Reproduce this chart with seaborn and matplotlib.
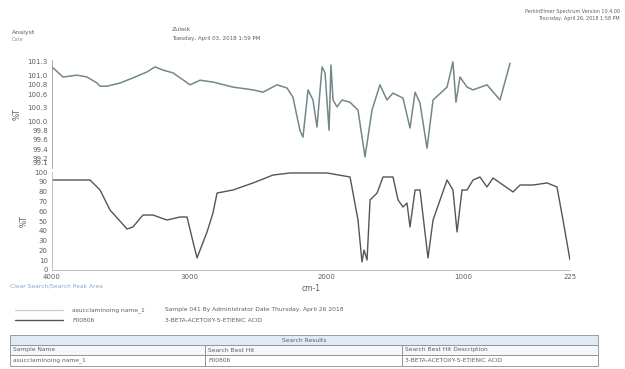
import matplotlib
matplotlib.use('Agg')
import matplotlib.pyplot as plt
import seaborn as sns
import numpy as np

sns.set_style('white')
plt.rcParams['font.family'] = ['DejaVu Sans']

# upper trace: sample spectrum (cm-1, %T)
wn_sample = [3993, 3920, 3818, 3745, 3672, 3650, 3599, 3504, 3410, 3308, 3249, 3191, 3118,
             2994, 2921, 2827, 2681, 2535, 2462, 2360, 2287, 2244, 2193, 2171, 2134, 2098,
             2069, 2032, 2010, 1981, 1967, 1952, 1923, 1886, 1828, 1770, 1719, 1668, 1610,
             1559, 1515, 1442, 1391, 1354, 1318, 1267, 1223, 1121, 1078, 1056, 1027, 975,
             932, 830, 735, 662]
t_sample = [101.17, 100.97, 101.01, 100.97, 100.84, 100.77, 100.77, 100.84, 100.95, 101.08,
            101.19, 101.12, 101.06, 100.80, 100.90, 100.86, 100.75, 100.69, 100.64, 100.80,
            100.73, 100.53, 99.81, 99.66, 100.69, 100.47, 99.88, 101.19, 101.06, 99.81,
            101.23, 100.47, 100.32, 100.47, 100.42, 100.25, 99.23, 100.25, 100.80, 100.47,
            100.62, 100.51, 99.86, 100.64, 100.40, 99.42, 100.47, 100.75, 101.30, 100.42,
            100.97, 100.75, 100.69, 100.80, 100.47, 101.27]

# lower trace: library hit F00806
wn_hit = [3993, 3723, 3650, 3577, 3453, 3410, 3337, 3264, 3162, 3067, 3016, 2972, 2943, 2921,
          2870, 2827, 2797, 2681, 2535, 2389, 2265, 1996, 1828, 1770, 1741, 1726, 1704, 1682,
          1631, 1588, 1515, 1478, 1442, 1413, 1391, 1354, 1318, 1260, 1223, 1172, 1121, 1078,
          1048, 1012, 975, 932, 881, 830, 786, 713, 640, 589, 495, 392, 320, 276, 225]
t_hit = [92.0, 92.0, 81.8, 61.3, 41.9, 44.0, 56.2, 56.2, 51.1, 54.2, 54.2, 28.6, 12.3, 20.4,
         38.9, 58.3, 78.7, 81.8, 89.0, 97.1, 99.2, 99.2, 95.1, 51.1, 8.2, 20.4, 10.2, 71.6,
         78.7, 95.1, 95.1, 71.6, 64.4, 68.5, 44.0, 81.8, 81.8, 12.3, 51.1, 71.6, 92.0, 81.8,
         38.9, 81.8, 81.8, 92.0, 95.1, 84.9, 94.1, 86.9, 79.8, 86.9, 86.9, 89.0, 84.9, 51.1, 10.2]

upper_ticks = [101.3, 101.0, 100.8, 100.6, 100.3, 100.0, 99.8, 99.6, 99.4, 99.2, 99.1]
lower_ticks = [0, 10, 20, 30, 40, 50, 60, 70, 80, 90, 100]
x_ticks = [4000, 3000, 2000, 1000, 225]
x_labels = ['4000', '3000', '2000', '1000', '225']

W, H = 625, 369
fig = plt.figure(figsize=(W / 100, H / 100), dpi=100)

def box(x0, y0, x1, y1):
    return [x0 / W, 1 - y1 / H, (x1 - x0) / W, (y1 - y0) / H]

grey = '#9a9a9a'
tick_kw = dict(labelsize=5, colors='#5e5e5e', length=2, width=0.5, pad=1)

# upper panel
ax1 = fig.add_axes(box(52, 60, 570, 168))
sns.lineplot(x=wn_sample, y=t_sample, ax=ax1, color='#748888', linewidth=1.1, estimator=None)
ax1.set_xlim(4000, 225)
ax1.set_ylim(98.99, 101.34)
ax1.set_yticks(upper_ticks)
ax1.set_yticklabels([f'{v:.1f}' for v in upper_ticks])
ax1.set_xticks([])
ax1.tick_params(axis='y', **tick_kw)
for s in ['top', 'right', 'bottom']:
    ax1.spines[s].set_visible(False)
ax1.spines['left'].set_color(grey)
ax1.spines['left'].set_linewidth(0.6)
ax1.set_ylabel('%T', fontsize=5.5, color='#5e5e5e', labelpad=4)

# lower panel
ax2 = fig.add_axes(box(52, 172, 570, 270))
sns.lineplot(x=wn_hit, y=t_hit, ax=ax2, color='#555555', linewidth=1.0, estimator=None)
ax2.set_xlim(4000, 225)
ax2.set_ylim(0, 100.2)
ax2.set_yticks(lower_ticks)
ax2.set_xticks(x_ticks)
ax2.set_xticklabels(x_labels)
ax2.tick_params(axis='both', **tick_kw)
for s in ['top', 'right']:
    ax2.spines[s].set_visible(False)
for s in ['left', 'bottom']:
    ax2.spines[s].set_color('#b5b5b5')
    ax2.spines[s].set_linewidth(0.6)
ax2.set_ylabel('%T', fontsize=5.5, color='#5e5e5e', labelpad=4)
ax2.set_xlabel('cm-1', fontsize=5.5, color='#5e5e5e', labelpad=3)

# page overlay: header, legend, result table
pg = fig.add_axes([0, 0, 1, 1], zorder=-1)
pg.set_xlim(0, W)
pg.set_ylim(H, 0)
pg.axis('off')
tc = '#5e5e5e'
pg.text(12, 34, 'Analyst', fontsize=4.5, color=tc)
pg.text(12, 41, 'Date', fontsize=3.5, color='#999999')
pg.text(172, 31, 'Zuleik', fontsize=4.5, color=tc)
pg.text(172, 40, 'Tuesday, April 03, 2018 1:59 PM', fontsize=4, color=tc)
pg.text(620, 13, 'PerkinElmer Spectrum Version 10.4.00', fontsize=3.5, color=tc, ha='right')
pg.text(620, 20, 'Thursday, April 26, 2018 1:58 PM', fontsize=3.5, color=tc, ha='right')
pg.text(10, 287, 'Clear Search/Search Peak Area', fontsize=4.3, color='#8aa6cc')

pg.plot([15, 63], [310, 310], color='#c8c8c8', linewidth=0.8)
pg.plot([15, 63], [320, 320], color='#555555', linewidth=1.0)
pg.text(72, 310, 'asucclaminoing name_1', fontsize=4.3, color=tc, va='center')
pg.text(165, 310, 'Sample 041 By Administrator Date Thursday, April 26 2018', fontsize=4.3, color=tc, va='center')
pg.text(72, 320, 'F00806', fontsize=4.3, color=tc, va='center')
pg.text(165, 320, '3-BETA-ACETOXY-5-ETIENIC ACID', fontsize=4.3, color=tc, va='center')

ec = '#8c8c8c'
pg.add_patch(plt.Rectangle((10, 335), 588, 10, facecolor='#dfeaf6', edgecolor=ec, linewidth=0.6))
pg.text(304, 340, 'Search Results', fontsize=4.3, color=tc, ha='center', va='center')
cols = [10, 205, 402, 598]
row_texts = [['Sample Name', 'Search Best Hit', 'Search Best Hit Description'],
             ['asucclaminoing name_1', 'F00806', '3-BETA-ACETOXY-5-ETIENIC ACID']]
for r, (y0, y1) in enumerate([(345, 355), (355, 366)]):
    for c in range(3):
        pg.add_patch(plt.Rectangle((cols[c], y0), cols[c + 1] - cols[c], y1 - y0,
                                   facecolor='#f4f8fc' if r == 0 else 'white',
                                   edgecolor=ec, linewidth=0.6))
        pg.text(cols[c] + 3, (y0 + y1) / 2, row_texts[r][c], fontsize=4.3, color=tc, va='center')

fig.savefig('out.png', dpi=100)
